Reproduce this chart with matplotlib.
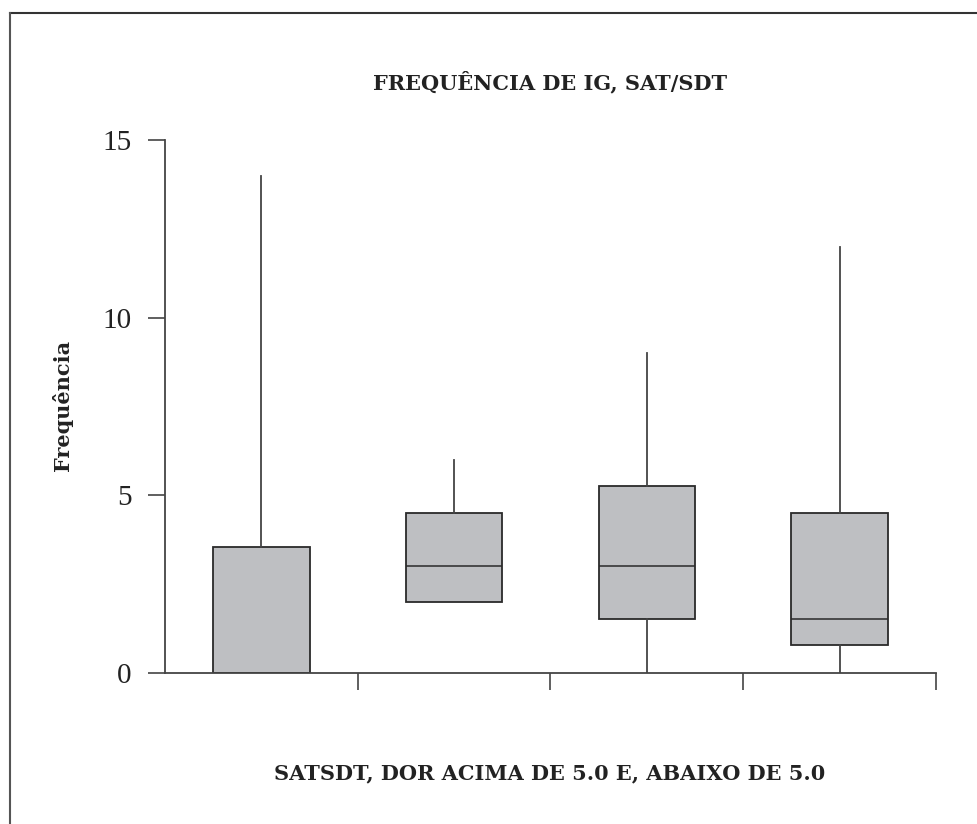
import matplotlib
matplotlib.use("Agg")
import matplotlib.pyplot as plt
from matplotlib.lines import Line2D

# Data
groups = ["G1", "G2", "G3", "G4"]
whislo = [0, 2, 0, 0]
q1 = [0, 2, 1.5, 0.78]
med = [0, 3, 3, 1.5]
q3 = [3.53, 4.5, 5.25, 4.5]
whishi = [14, 6, 9, 12]
yticks = [0, 5, 10, 15]

plt.rcParams['font.family'] = ['Liberation Serif', 'DejaVu Serif']
label_font = ['DejaVu Serif']

fig = plt.figure(figsize=(9.78, 8.24), dpi=100)
ax = fig.add_axes([165/978, 151.3/824, (936-165)/978, (672.7-140)/824])

stats = []
for i in range(len(groups)):
    stats.append(dict(label=groups[i], whislo=whislo[i], q1=q1[i], med=med[i],
                      q3=q3[i], whishi=whishi[i], fliers=[]))

positions = [0.5 + i for i in range(len(groups))]
ax.bxp(stats, positions=positions, widths=0.5, showcaps=False, showfliers=False,
       patch_artist=True,
       boxprops=dict(facecolor='#bebfc2', edgecolor='#2a2a2a', linewidth=1.3),
       medianprops=dict(color='#2a2a2a', linewidth=1.1),
       whiskerprops=dict(color='#444444', linewidth=1.3))

ax.set_xlim(0, 4)
ax.set_ylim(0, 15)
ax.set_xticks([1, 2, 3, 4])
ax.set_xticklabels([])
ax.set_yticks(yticks)
ax.set_yticklabels([str(v) for v in yticks], fontsize=21, color='#222222')
for s in ['top', 'right']:
    ax.spines[s].set_visible(False)
for s in ['left', 'bottom']:
    ax.spines[s].set_color('#444444')
    ax.spines[s].set_linewidth(1.3)
ax.tick_params(axis='y', length=12, width=1.2, color='#444444', pad=12)
ax.tick_params(axis='x', length=12, width=1.2, color='#444444')

fig.text(550/978, 1 - 82/824, "FREQUÊNCIA DE IG, SAT/SDT", ha='center', va='center',
         fontsize=15, fontweight='bold', color='#222222', family=label_font)
fig.text(550/978, 1 - 773/824, "SATSDT, DOR ACIMA DE 5.0 E, ABAIXO DE 5.0", ha='center',
         va='center', fontsize=15, fontweight='bold', color='#222222', family=label_font)
fig.text(63/978, 1 - 405/824, "Frequência", ha='center', va='center', rotation=90,
         fontsize=15, fontweight='bold', color='#222222', family=label_font)

# frame lines (top and left)
fig.add_artist(Line2D([9.5/978, 1], [1 - 13/824, 1 - 13/824], transform=fig.transFigure,
                      color='#333333', linewidth=1.5))
fig.add_artist(Line2D([9.5/978, 9.5/978], [0, 1 - 13/824], transform=fig.transFigure,
                      color='#555555', linewidth=1.5))

fig.savefig("out.png", dpi=100)
